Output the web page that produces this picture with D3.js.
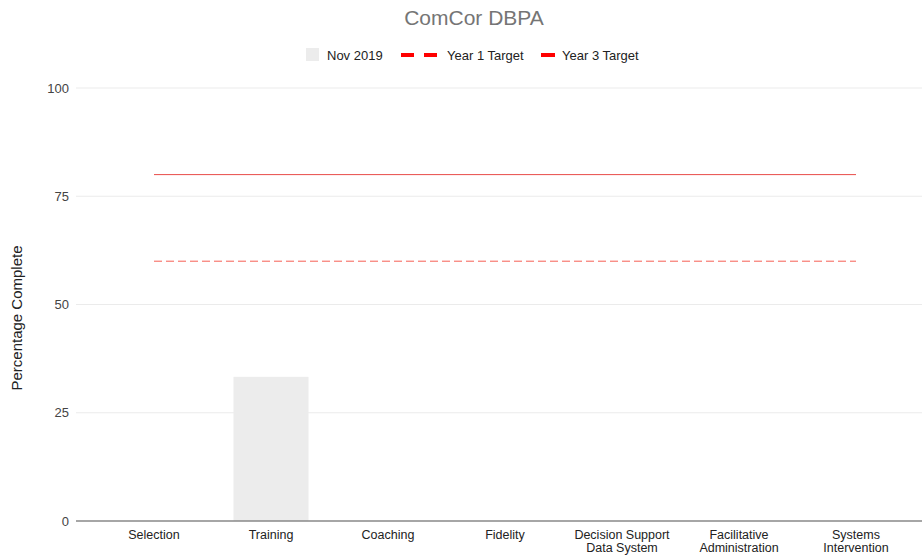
<!DOCTYPE html>
<html><head><meta charset="utf-8">
<script src="https://cdnjs.cloudflare.com/ajax/libs/d3/7.8.5/d3.min.js"></script>
<style>body{margin:0;background:#fff}svg{display:block;font-family:Arial,"Liberation Sans",sans-serif}</style>
</head><body><svg id="c" width="922" height="557"></svg>
<script>
const categories = [["Selection"],["Training"],["Coaching"],["Fidelity"],["Decision Support","Data System"],["Facilitative","Administration"],["Systems","Intervention"]];
const nov2019 = [0, 33.3, 0, 0, 0, 0, 0];
const year1Target = [60, 60, 60, 60, 60, 60, 60];
const year3Target = [80, 80, 80, 80, 80, 80, 80];
const yTicks = [0, 25, 50, 75, 100];

const svg = d3.select("#c");
const keys = categories.map(c => c.join(" "));
const xc = d3.scalePoint().domain(keys).range([95.5, 914.5]).padding(0.5);
const y = d3.scaleLinear().domain([0, 100]).range([521, 88]);

// gridlines
svg.append("g").selectAll("line").data(yTicks.filter(d => d > 0)).join("line")
  .attr("x1", 76).attr("x2", 922).attr("y1", d => y(d)).attr("y2", d => y(d))
  .attr("stroke", "#ebebeb").attr("stroke-width", 1);

// y axis labels
const yAxis = d3.axisLeft(y).tickValues(yTicks).tickSize(0).tickPadding(0);
const ga = svg.append("g").attr("transform", "translate(69,0)").call(yAxis);
ga.select(".domain").remove();
ga.selectAll("text").attr("font-size", 13).attr("fill", "#444").attr("font-family", "Arial,'Liberation Sans',sans-serif");

// bars
svg.append("g").selectAll("rect").data(nov2019.map((v, i) => ({k: keys[i], v}))).join("rect")
  .attr("x", d => xc(d.k) - 37.5).attr("width", 75)
  .attr("y", d => y(d.v)).attr("height", d => y(0) - y(d.v))
  .attr("fill", "#ececec");

// target lines
const line = d3.line().x((d, i) => xc(keys[i])).y(d => y(d));
svg.append("path").datum(year3Target).attr("d", line).attr("fill", "none")
  .attr("stroke", "#e53935").attr("stroke-opacity", 0.9).attr("stroke-width", 1);
svg.append("path").datum(year1Target).attr("d", line).attr("fill", "none")
  .attr("stroke", "#f44336").attr("stroke-opacity", 0.85).attr("stroke-width", 1)
  .attr("stroke-dasharray", "8,4");

// baseline
svg.append("line").attr("x1", 76).attr("x2", 922).attr("y1", y(0)).attr("y2", y(0))
  .attr("stroke", "#888").attr("stroke-width", 1.3);

// x labels (each line its own text element)
const xg = svg.append("g");
categories.forEach((lines, i) => {
  lines.forEach((s, j) => {
    xg.append("text").attr("x", xc(keys[i])).attr("y", 538.5 + j * 13.5)
      .attr("text-anchor", "middle").attr("font-size", 12.5).attr("fill", "#222").text(s);
  });
});

// y title
svg.append("text").attr("transform", "translate(22,318) rotate(-90)")
  .attr("text-anchor", "middle").attr("font-size", 15).attr("fill", "#222").text("Percentage Complete");

// title
svg.append("text").attr("x", 474).attr("y", 25).attr("text-anchor", "middle")
  .attr("font-size", 21).attr("fill", "#757575").text("ComCor DBPA");

// legend
const lg = svg.append("g");
lg.append("rect").attr("x", 306).attr("y", 48).attr("width", 13).attr("height", 13).attr("fill", "#ececec");
lg.append("text").attr("x", 327).attr("y", 59.5).attr("font-size", 13).attr("fill", "#222").text("Nov 2019");
lg.append("line").attr("x1", 401).attr("x2", 437).attr("y1", 55).attr("y2", 55)
  .attr("stroke", "#ff0000").attr("stroke-width", 4).attr("stroke-dasharray", "13,10");
lg.append("text").attr("x", 447).attr("y", 59.5).attr("font-size", 13).attr("fill", "#222").text("Year 1 Target");
lg.append("line").attr("x1", 541).attr("x2", 555).attr("y1", 55).attr("y2", 55)
  .attr("stroke", "#ff0000").attr("stroke-width", 4);
lg.append("text").attr("x", 562).attr("y", 59.5).attr("font-size", 13).attr("fill", "#222").text("Year 3 Target");
</script></body></html>
